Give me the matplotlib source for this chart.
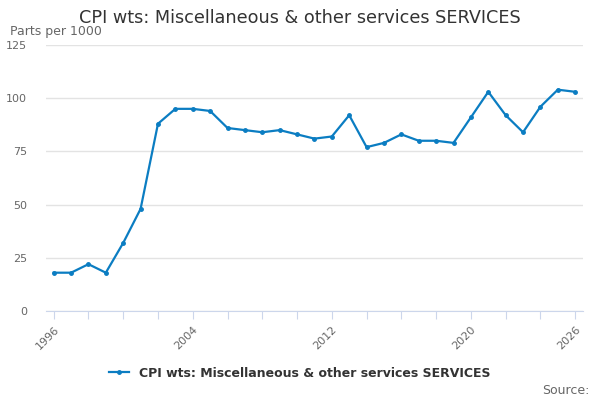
import matplotlib
matplotlib.use('Agg')
import matplotlib.pyplot as plt

years = list(range(1996, 2027))
values = [18, 18, 22, 18, 32, 48, 88, 95, 95, 94, 86, 85, 84, 85, 83, 81, 82, 92,
          77, 79, 83, 80, 80, 79, 91, 103, 92, 84, 96, 104, 103]
label_years = [1996, 2004, 2012, 2020, 2026]
series_name = 'CPI wts: Miscellaneous & other services SERVICES'

blue = '#0b7dc2'
grey = '#666666'

fig = plt.figure(figsize=(6, 4), dpi=100)
ax = fig.add_axes([0.077, 0.2225, 0.895, 0.665])

line, = ax.plot(years, values, color=blue, lw=1.6, marker='o', ms=2.5, label=series_name)

ax.set_xlim(1995.57, 2026.46)
ax.set_ylim(0, 125)
ax.set_yticks([0, 25, 50, 75, 100, 125])
ax.set_xticks(range(1996, 2027, 2))
ax.set_xticklabels([str(y) if y in label_years else '' for y in range(1996, 2027, 2)],
                   rotation=45, ha='right', rotation_mode='anchor')

ax.grid(axis='y', color='#e3e3e3', lw=1)
ax.set_axisbelow(True)
for s in ['top', 'right', 'left']:
    ax.spines[s].set_visible(False)
ax.spines['bottom'].set_color('#ccd6eb')
ax.tick_params(axis='y', length=0, labelsize=8, labelcolor=grey, pad=14)
ax.tick_params(axis='x', length=6, color='#ccd6eb', labelsize=8, labelcolor=grey)

fig.text(0.5, 0.955, series_name, ha='center', va='center',
         fontsize=12.7, color='#333333')
fig.text(0.017, 0.922, 'Parts per 1000', ha='left', va='center', fontsize=9, color=grey)

fig.legend(handles=[line], loc='center', bbox_to_anchor=(0.5, 0.067), frameon=False,
           prop={'weight': 'bold', 'size': 9}, handlelength=1.6, labelcolor='#333333')
fig.text(0.982, 0.025, 'Source:', ha='right', va='center', fontsize=9, color=grey)

fig.savefig('out.png', dpi=100)
